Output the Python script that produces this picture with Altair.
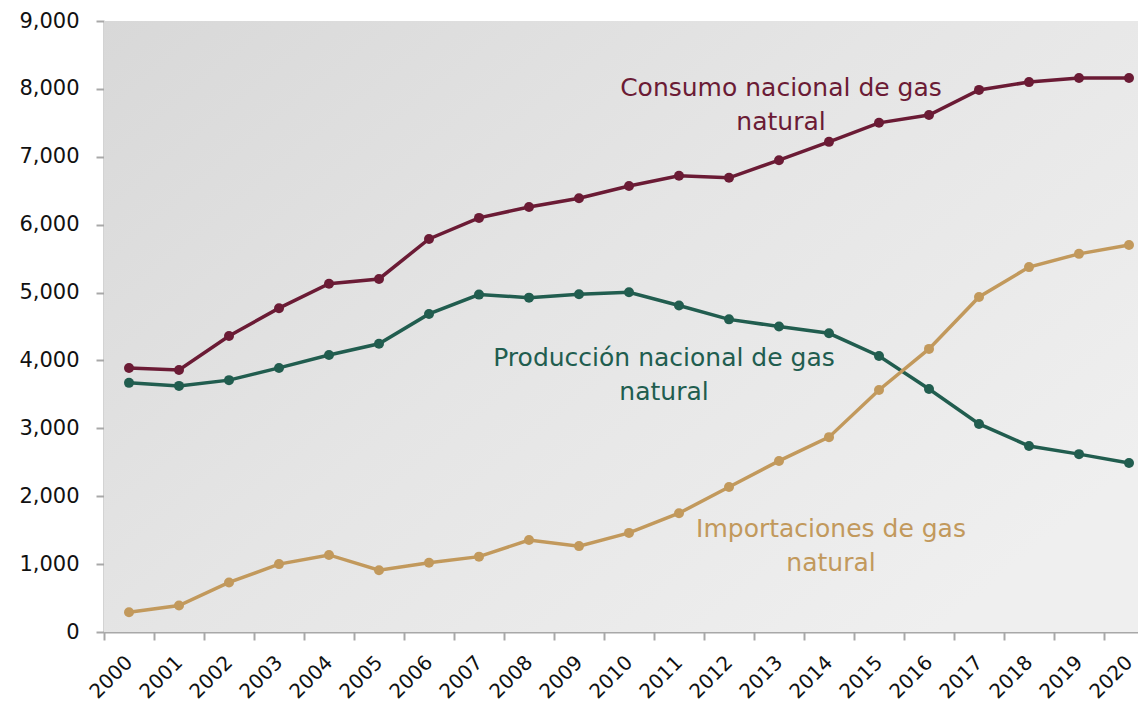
import altair as alt
import pandas as pd

years = list(range(2000, 2021))
consumo = [3890, 3860, 4360, 4770, 5130, 5200, 5790, 6100, 6260, 6390, 6570,
           6720, 6690, 6950, 7220, 7500, 7615, 7985, 8100, 8160, 8160]
produccion = [3670, 3625, 3710, 3890, 4080, 4245, 4685, 4970, 4925, 4975, 5005,
              4810, 4605, 4500, 4400, 4065, 3580, 3065, 2740, 2620, 2490]
importaciones = [290, 390, 730, 1000, 1135, 910, 1020, 1110, 1355, 1265, 1460,
                 1750, 2135, 2520, 2870, 3565, 4170, 4935, 5375, 5570, 5700]

series_names = ["Consumo nacional de gas natural",
                "Producción nacional de gas natural",
                "Importaciones de gas natural"]
series_colors = ["#6b1b35", "#215d4f", "#c2995c"]

label_texts = ["Consumo nacional de gas\nnatural",
               "Producción nacional de gas\nnatural",
               "Importaciones de gas\nnatural"]
label_years = [2013, 2011, 2014]
label_values = [8010, 4035, 1515]
label_dx = [2, -15, 2]

rows = []
for name, vals in zip(series_names, [consumo, produccion, importaciones]):
    for y, v in zip(years, vals):
        rows.append({"year": y, "value": v, "serie": name})
df = pd.DataFrame(rows)

W, H = 1034, 611
FONT = "DejaVu Sans"

x_enc = alt.X("year:O",
              scale=alt.Scale(paddingInner=0, paddingOuter=0, range=[0, 1050]),
              axis=alt.Axis(title=None, tickBand="extent", labelAngle=-45,
                            labelAlign="right", labelBaseline="middle",
                            labelFontSize=20, labelColor="#111111", labelFont=FONT,
                            domainColor="#a8a8a8", domainWidth=2, tickColor="#a8a8a8",
                            tickWidth=2, tickSize=8, labelPadding=19))
y_scale = alt.Scale(domain=[0, 9000], nice=False)
y_axis = alt.Axis(title=None, values=list(range(0, 9001, 1000)), format=",.0f",
                  labelFontSize=21, labelColor="#111111", labelFont=FONT,
                  domainColor="#a8a8a8", domainWidth=2, tickColor="#a8a8a8",
                  tickWidth=2, tickSize=8, labelPadding=17, grid=False)

color_scale = alt.Scale(domain=series_names, range=series_colors)

bg = alt.Chart(pd.DataFrame({"a": [0]})).mark_rect(
    fill=alt.LinearGradient(
        gradient="linear",
        stops=[alt.GradientStop(color="#d8d8d8", offset=0),
               alt.GradientStop(color="#e5e5e5", offset=0.5),
               alt.GradientStop(color="#efefef", offset=1)],
        x1=0, y1=0, x2=1, y2=0.7)
).encode(x=alt.value(0), x2=alt.value(W + 20), y=alt.value(0), y2=alt.value(H))

lines = alt.Chart(df).mark_line(strokeWidth=3.5).encode(
    x=x_enc,
    y=alt.Y("value:Q", scale=y_scale, axis=y_axis),
    color=alt.Color("serie:N", scale=color_scale, legend=None),
    detail="serie:N",
)
points = alt.Chart(df).mark_point(filled=True, size=100, opacity=1).encode(
    x=alt.X("year:O"),
    y=alt.Y("value:Q"),
    color=alt.Color("serie:N", scale=color_scale, legend=None),
)

lab_df = pd.DataFrame({"year": label_years, "value": label_values,
                       "text": label_texts, "serie": series_names})
label_layers = []
for i in range(3):
    d = lab_df.iloc[[i]]
    label_layers.append(
        alt.Chart(d).mark_text(fontSize=25, font=FONT, lineBreak="\n", lineHeight=34,
                               align="center", baseline="middle", dx=label_dx[i],
                               color=series_colors[i]).encode(
            x=alt.X("year:O"), y=alt.Y("value:Q"), text="text:N")
    )

chart = alt.layer(bg, lines, points, *label_layers).properties(
    width=W, height=H,
    padding={"left": 96, "top": 13, "right": 0, "bottom": 73},
    autosize=alt.AutoSizeParams(type="none"),
).configure_view(stroke=None)

chart.save("out.html", embed_options={"renderer": "svg", "actions": False})
